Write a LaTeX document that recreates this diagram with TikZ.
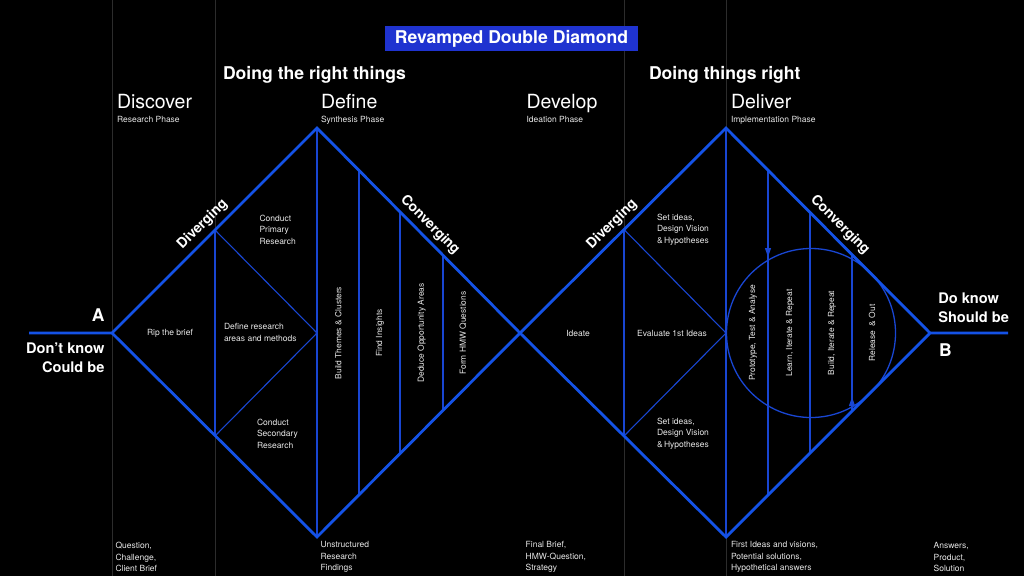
\documentclass[tikz,border=0pt]{standalone}
\usepackage{fontspec}
\setmainfont{TeX Gyre Heros}
\usetikzlibrary{arrows.meta}
\definecolor{mainblue}{HTML}{1452E6}
\definecolor{thinblue}{HTML}{1946D2}
\definecolor{titleblue}{HTML}{1F33D0}
\definecolor{gridgrey}{HTML}{2C2C2C}
\definecolor{bodytext}{HTML}{E8E8E8}
\begin{document}
\begin{tikzpicture}[x=1pt,y=-1pt,
  bigline/.style={mainblue,line width=2.8pt,line join=miter},
  thinline/.style={thinblue,line width=1.1pt},
  gridline/.style={gridgrey,line width=0.8pt},
  ringline/.style={thinblue,line width=1.3pt},
  tipmark/.style={thinblue,line width=1.1pt,-{Triangle[length=9pt,width=6pt]}},
  txt/.style={inner sep=0pt,outer sep=0pt,text=white},
  titlebox/.style={txt,fill=titleblue,minimum width=253pt,minimum height=25pt,font=\bfseries\fontsize{17.6}{20}\selectfont},
  headline/.style={txt,anchor=base west,font=\bfseries\fontsize{17.6}{20}\selectfont},
  phase/.style={txt,anchor=base west,font=\fontsize{19.5}{22}\selectfont},
  phasesub/.style={txt,anchor=base west,text=bodytext,font=\fontsize{8.5}{10}\selectfont},
  body/.style={txt,text=bodytext,align=left,anchor=west,font=\fontsize{8.5}{11.6}\selectfont},
  cbody/.style={txt,text=bodytext,font=\fontsize{8.5}{11.6}\selectfont},
  vbody/.style={txt,text=bodytext,rotate=90,font=\fontsize{8.4}{10}\selectfont},
  flowlabel/.style={txt,font=\bfseries\fontsize{14}{16}\selectfont},
  endlabel/.style={txt,font=\bfseries\fontsize{14.6}{18}\selectfont},
  letter/.style={txt,font=\bfseries\fontsize{17.5}{20}\selectfont}
]
% background and bounding box
\fill[black] (0,0) rectangle (1024,576);
\useasboundingbox (0,0) rectangle (1024,576);

% grid lines
\foreach \gx/\gn in {112/g1,215/g2,624/g3,726/g4}{
  \coordinate (\gn t) at (\gx,0);
  \coordinate (\gn b) at (\gx,576);
  \draw[gridline] (\gn t) -- (\gn b);
}

% main vertices
\coordinate (L0) at (29,333);
\coordinate (A)  at (112,333);
\coordinate (T1) at (317,128);
\coordinate (B1) at (317,537);
\coordinate (M)  at (520,333);
\coordinate (T2) at (726,128);
\coordinate (B2) at (726,537);
\coordinate (Bv) at (930,333);
\coordinate (R0) at (1008,333);

% inner coordinates, diamond 1
\coordinate (d1a) at (215,230);
\coordinate (d1b) at (215,436);
\coordinate (d1c) at (317,333);
\coordinate (v1t) at (359,170.4);
\coordinate (v1b) at (359,494.8);
\coordinate (v2t) at (400,211.8);
\coordinate (v2b) at (400,453.6);
\coordinate (v3t) at (443,255.2);
\coordinate (v3b) at (443,410.4);

% inner coordinates, diamond 2
\coordinate (d2a) at (624,229.5);
\coordinate (d2b) at (624,436);
\coordinate (d2c) at (726,333);
\coordinate (w1t) at (768,170.2);
\coordinate (w1b) at (768,495);
\coordinate (w2t) at (810,212.4);
\coordinate (w2b) at (810,453);
\coordinate (w3t) at (852,254.6);
\coordinate (w3b) at (852,411);
\coordinate (ringc) at (811,333);

% thin inner lines
\draw[thinline] (d1a) -- (d1b);
\draw[thinline] (d1a) -- (d1c) -- (d1b);
\draw[thinline] (T1) -- (B1);
\draw[thinline] (v1t) -- (v1b);
\draw[thinline] (v2t) -- (v2b);
\draw[thinline] (v3t) -- (v3b);
\draw[thinline] (d2a) -- (d2b);
\draw[thinline] (d2a) -- (d2c) -- (d2b);
\draw[thinline] (T2) -- (B2);
\draw[thinline] (w1t) -- (w1b);
\draw[thinline] (w2t) -- (w2b);
\draw[thinline] (w3t) -- (w3b);
\draw[ringline] (ringc) circle[radius=84.5];
\coordinate (aw1s) at (768,246);
\coordinate (aw1e) at (768,257);
\coordinate (aw2s) at (852,408);
\coordinate (aw2e) at (852,397);
\draw[tipmark] (aw1s) -- (aw1e);
\draw[tipmark] (aw2s) -- (aw2e);

% main diamond outlines
\draw[bigline] (L0) -- (A) -- (T1) -- (M) -- (B2) -- (Bv) -- (R0);
\draw[bigline] (A) -- (B1) -- (M) -- (T2) -- (Bv);

% title and headings
\node[titlebox] (title) at (511.5,38.5) {Revamped Double Diamond};
\node[headline] (h1) at (223,79) {Doing the right things};
\node[headline] (h2) at (649,79) {Doing things right};

\node[phase] (p1) at (117,108.5) {Discover};
\node[phasesub] (p1s) at (117,122) {Research Phase};
\node[phase] (p2) at (321,108.5) {Define};
\node[phasesub] (p2s) at (321,122) {Synthesis Phase};
\node[phase] (p3) at (526.5,108.5) {Develop};
\node[phasesub] (p3s) at (526.5,122) {Ideation Phase};
\node[phase] (p4) at (731,108.5) {Deliver};
\node[phasesub] (p4s) at (731,122) {Implementation Phase};

% flow labels
\node[flowlabel,rotate=45] (div1) at (202.5,224.5) {Diverging};
\node[flowlabel,rotate=-45] (con1) at (430,225) {Converging};
\node[flowlabel,rotate=45] (div2) at (612,224.5) {Diverging};
\node[flowlabel,rotate=-45] (con2) at (840,225) {Converging};

% end labels
\node[letter,anchor=base east] (la) at (104.5,321) {A};
\node[endlabel,anchor=base east] (lda) at (104.5,353.3) {Don’t know};
\node[endlabel,anchor=base east] (ldb) at (104.5,372.7) {Could be};
\node[endlabel,anchor=base west] (lea) at (938.3,303.3) {Do know};
\node[endlabel,anchor=base west] (leb) at (938.3,322.7) {Should be};
\node[letter,anchor=base west] (lb) at (939,356.7) {B};

% diamond 1 texts
\node[cbody] (rip) at (170,333) {Rip the brief};
\node[body] (defr) at (224,332.5) {Define research\\areas and methods};
\node[body] (cpr) at (259.5,229.5) {Conduct\\Primary\\Research};
\node[body] (csr) at (257,433.7) {Conduct\\Secondary\\Research};
\node[vbody] (btc) at (338.3,333) {Build Themes \& Clusters};
\node[vbody] (fin) at (380,333) {Find Insights};
\node[vbody] (doa) at (421.7,333) {Deduce Opportunity Areas};
\node[vbody] (hmw) at (463,333) {Form HMW Questions};

% diamond 2 texts
\node[cbody] (ide) at (578,333) {Ideate};
\node[cbody] (eva) at (672,333) {Evaluate 1st Ideas};
\node[body] (sia) at (657,229.5) {Set ideas,\\Design Vision\\\&\,Hypotheses};
\node[body] (sib) at (657,433.7) {Set ideas,\\Design Vision\\\&\,Hypotheses};
\node[vbody] (pta) at (753,333) {Prototype, Test \& Analyse};
\node[vbody] (lir) at (790,333) {Learn, Iterate \& Repeat};
\node[vbody] (bir) at (832,333) {Build, Iterate \& Repeat};
\node[vbody] (reo) at (872,333) {Release \ \& Out};

% bottom labels
\node[body] (q1) at (115.5,557) {Question,\\Challenge,\\Client Brief};
\node[body] (q2) at (320.5,557) {Unstructured\\Research\\Findings};
\node[body] (q3) at (525.7,557) {Final Brief,\\HMW-Question,\\Strategy};
\node[body] (q4) at (731,557) {First Ideas and visions,\\Potential solutions,\\Hypothetical answers};
\node[body] (q5) at (933.7,557) {Answers,\\Product,\\Solution};
\end{tikzpicture}
\end{document}
